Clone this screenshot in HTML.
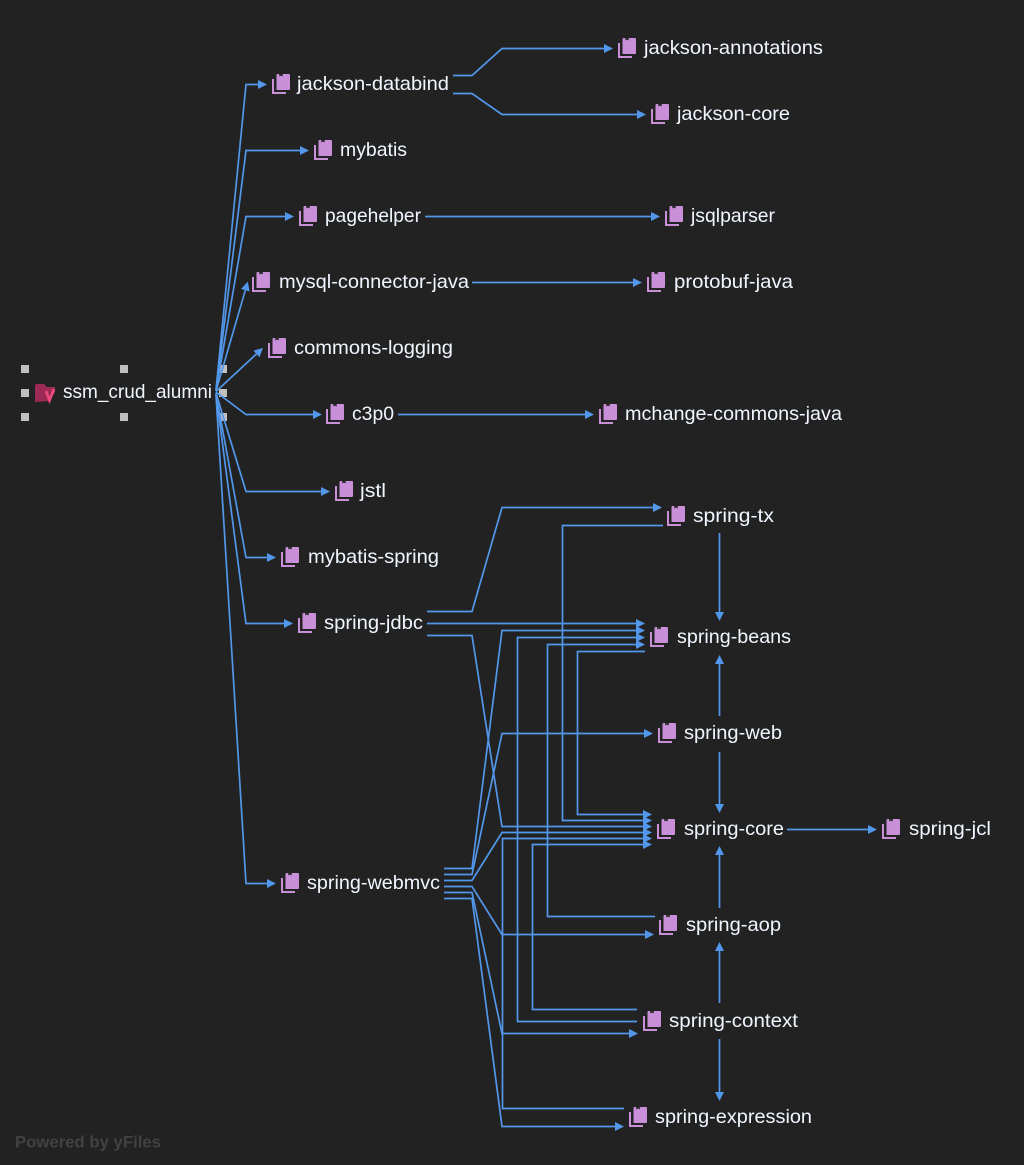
<!DOCTYPE html>
<html><head><meta charset="utf-8"><style>
html,body{margin:0;padding:0;background:#222222}
svg{display:block}
text{font-family:"Liberation Sans",sans-serif;font-size:19.5px;fill:#f0f6ff}
.e{fill:none;stroke:#5297ea;stroke-width:1.7}
.h{fill:#c0c0c0}
</style></head><body>
<svg width="1024" height="1165" viewBox="0 0 1024 1165" xmlns="http://www.w3.org/2000/svg">
<defs>
<marker id="a" markerUnits="userSpaceOnUse" markerWidth="9" markerHeight="10" refX="0" refY="5" orient="auto"><path d="M0 0.5L9 5L0 9.5Z" fill="#5297ea"/></marker>
<g id="i"><path d="M0 5H2V18H14V20H0Z" fill="#c98fd8"/><path d="M4.5 1Q4.5 0 5.5 0H7.3V2.5L9 1.5L10.7 2.5V0H17Q18 0 18 1V15Q18 16 17 16H4.5Z" fill="#c98fd8"/></g>
</defs>
<rect width="1024" height="1165" fill="#222222"/>
<rect class="h" x="21" y="365" width="8" height="8"/><rect class="h" x="120" y="365" width="8" height="8"/><rect class="h" x="219" y="365" width="8" height="8"/>
<rect class="h" x="21" y="389" width="8" height="8"/><rect class="h" x="219" y="389" width="8" height="8"/>
<rect class="h" x="21" y="413" width="8" height="8"/><rect class="h" x="120" y="413" width="8" height="8"/><rect class="h" x="219" y="413" width="8" height="8"/>
<g class="e">
<path class="e" marker-end="url(#a)" d="M216 390L246 84.5H258"/>
<path class="e" marker-end="url(#a)" d="M216 390.5L246 150.5H300"/>
<path class="e" marker-end="url(#a)" d="M216 391L246 216.5H285"/>
<path class="e" marker-end="url(#a)" d="M216 391L245.3 290.3"/>
<path class="e" marker-end="url(#a)" d="M216 391.5L256.4 354"/>
<path class="e" marker-end="url(#a)" d="M216 392L246 414.5H313"/>
<path class="e" marker-end="url(#a)" d="M216 393L246 491.5H321"/>
<path class="e" marker-end="url(#a)" d="M216 393.5L246 557.5H267"/>
<path class="e" marker-end="url(#a)" d="M216 394L246 623.5H284"/>
<path class="e" marker-end="url(#a)" d="M216 395L246 883.5H267"/>
<path class="e" marker-end="url(#a)" d="M453 75.5H472L502 48.5H604"/>
<path class="e" marker-end="url(#a)" d="M453 93.5H472L502 114.5H637"/>
<path class="e" marker-end="url(#a)" d="M425 216.5H651"/>
<path class="e" marker-end="url(#a)" d="M472 282.5H633"/>
<path class="e" marker-end="url(#a)" d="M398 414.5H585"/>
<path class="e" marker-end="url(#a)" d="M427 611.5H472L502 507.5H653"/>
<path class="e" marker-end="url(#a)" d="M427 623.5H636"/>
<path class="e" marker-end="url(#a)" d="M427 635.5H472L502 826.5H643"/>
<path class="e" marker-end="url(#a)" d="M444 868.5H472L502 630.5H636"/>
<path class="e" marker-end="url(#a)" d="M444 874.5H472L502 733.5H644"/>
<path class="e" marker-end="url(#a)" d="M444 880.5H472L502 832.5H643"/>
<path class="e" marker-end="url(#a)" d="M444 886.5H472L502 934.5H645"/>
<path class="e" marker-end="url(#a)" d="M444 892.5H472L502 1033.5H629"/>
<path class="e" marker-end="url(#a)" d="M444 898.5H472L502 1126.5H615"/>
<path class="e" marker-end="url(#a)" d="M637 1021.5H517.5V637.5H636"/>
<path class="e" marker-end="url(#a)" d="M655 916.5H547.5V644.5H636"/>
<path class="e" marker-end="url(#a)" d="M645 651.5H577.5V814.5H643"/>
<path class="e" marker-end="url(#a)" d="M663 525.5H562.5V820.5H643"/>
<path class="e" marker-end="url(#a)" d="M624 1108.5H502.5V838.5H643"/>
<path class="e" marker-end="url(#a)" d="M637 1009.5H532.5V844.5H643"/>
<path class="e" marker-end="url(#a)" d="M719.5 533V612"/>
<path class="e" marker-end="url(#a)" d="M719.5 716V664"/>
<path class="e" marker-end="url(#a)" d="M719.5 752V804"/>
<path class="e" marker-end="url(#a)" d="M719.5 908V855"/>
<path class="e" marker-end="url(#a)" d="M719.5 1003V951"/>
<path class="e" marker-end="url(#a)" d="M719.5 1039V1092"/>
<path class="e" marker-end="url(#a)" d="M787 829.5H868"/>
</g>
<path d="M35 386Q35 384 37 384H44L47 387H55V392L50 401L35 402Z" fill="#9c2a55"/>
<path d="M46 391L49.5 400.5L54 389" fill="none" stroke="#ee4a7c" stroke-width="2.6"/>
<use href="#i" x="272" y="74"/><use href="#i" x="618" y="38"/><use href="#i" x="651" y="104"/><use href="#i" x="314" y="140"/>
<use href="#i" x="299" y="206"/><use href="#i" x="665" y="206"/><use href="#i" x="252" y="272"/><use href="#i" x="647" y="272"/>
<use href="#i" x="268" y="338"/><use href="#i" x="326" y="404"/><use href="#i" x="599" y="404"/><use href="#i" x="335" y="481"/>
<use href="#i" x="281" y="547"/><use href="#i" x="667" y="506"/><use href="#i" x="298" y="613"/><use href="#i" x="650" y="627"/>
<use href="#i" x="658" y="723"/><use href="#i" x="657" y="819"/><use href="#i" x="882" y="819"/><use href="#i" x="659" y="915"/>
<use href="#i" x="643" y="1011"/><use href="#i" x="281" y="873"/><use href="#i" x="629" y="1107"/>
<text x="63" y="398" textLength="149" lengthAdjust="spacingAndGlyphs">ssm_crud_alumni</text>
<text x="297" y="90" textLength="152" lengthAdjust="spacingAndGlyphs">jackson-databind</text>
<text x="644" y="54" textLength="179" lengthAdjust="spacingAndGlyphs">jackson-annotations</text>
<text x="677" y="120" textLength="113" lengthAdjust="spacingAndGlyphs">jackson-core</text>
<text x="340" y="156" textLength="67" lengthAdjust="spacingAndGlyphs">mybatis</text>
<text x="325" y="222" textLength="96" lengthAdjust="spacingAndGlyphs">pagehelper</text>
<text x="691" y="222" textLength="84" lengthAdjust="spacingAndGlyphs">jsqlparser</text>
<text x="279" y="288" textLength="190" lengthAdjust="spacingAndGlyphs">mysql-connector-java</text>
<text x="674" y="288" textLength="119" lengthAdjust="spacingAndGlyphs">protobuf-java</text>
<text x="294" y="354" textLength="159" lengthAdjust="spacingAndGlyphs">commons-logging</text>
<text x="352" y="420" textLength="42" lengthAdjust="spacingAndGlyphs">c3p0</text>
<text x="625" y="420" textLength="217" lengthAdjust="spacingAndGlyphs">mchange-commons-java</text>
<text x="360" y="497" textLength="26" lengthAdjust="spacingAndGlyphs">jstl</text>
<text x="308" y="563" textLength="131" lengthAdjust="spacingAndGlyphs">mybatis-spring</text>
<text x="693" y="522" textLength="81" lengthAdjust="spacingAndGlyphs">spring-tx</text>
<text x="324" y="629" textLength="99" lengthAdjust="spacingAndGlyphs">spring-jdbc</text>
<text x="677" y="643" textLength="114" lengthAdjust="spacingAndGlyphs">spring-beans</text>
<text x="684" y="739" textLength="98" lengthAdjust="spacingAndGlyphs">spring-web</text>
<text x="684" y="835" textLength="100" lengthAdjust="spacingAndGlyphs">spring-core</text>
<text x="909" y="835" textLength="82" lengthAdjust="spacingAndGlyphs">spring-jcl</text>
<text x="686" y="931" textLength="95" lengthAdjust="spacingAndGlyphs">spring-aop</text>
<text x="669" y="1027" textLength="129" lengthAdjust="spacingAndGlyphs">spring-context</text>
<text x="307" y="889" textLength="133" lengthAdjust="spacingAndGlyphs">spring-webmvc</text>
<text x="655" y="1123" textLength="157" lengthAdjust="spacingAndGlyphs">spring-expression</text>
<text x="15" y="1147.5" style="font-size:17px;font-weight:bold;fill:#424242" textLength="146" lengthAdjust="spacingAndGlyphs">Powered by yFiles</text>
</svg>
</body></html>
